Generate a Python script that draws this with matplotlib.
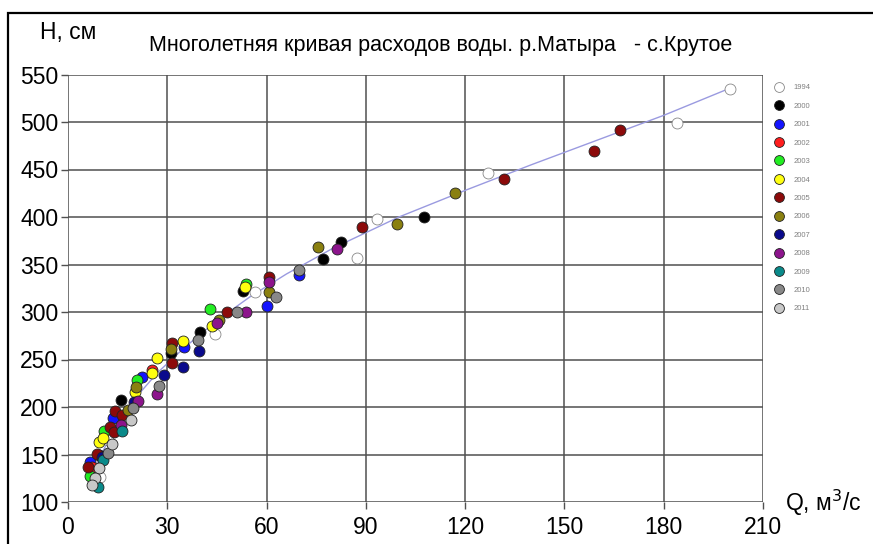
import matplotlib
matplotlib.use("Agg")
import matplotlib.pyplot as plt
from matplotlib.patches import Rectangle

plt.rcParams['font.family'] = ['Liberation Sans', 'DejaVu Sans']

years = ['1994', '2000', '2001', '2002', '2003', '2004', '2005', '2006',
         '2007', '2008', '2009', '2010', '2011']
colors = ['#ffffff', '#000000', '#1414ff', '#ff1e1e', '#22ee22', '#ffff10',
          '#8c0a0a', '#8a8010', '#0a0a8c', '#8c148c', '#0a8a8a', '#888888',
          '#c8c8c8']

q_1994 = [199.9, 183.9, 127.0, 93.4, 87.4, 56.5, 44.5, 12.1, 9.7]
h_1994 = [534.3, 498.5, 446.0, 397.6, 356.6, 320.8, 276.7, 165.0, 126.0]
q_2000 = [107.6, 82.6, 77.1, 52.9, 39.9, 31.1, 16.0, 9.4]
h_2000 = [399.7, 373.4, 355.5, 321.9, 278.8, 256.7, 207.3, 149.4]
q_2001 = [60.2, 69.9, 35.1, 22.4, 13.6, 6.7]
h_2001 = [306.1, 338.7, 263.0, 231.4, 188.3, 142.0]
q_2002 = [7.3, 25.4]
h_2002 = [136.8, 238.8]
q_2003 = [53.8, 42.9, 20.9, 10.9, 6.7]
h_2003 = [329.2, 302.9, 228.3, 174.7, 127.3]
q_2004 = [53.5, 43.5, 34.8, 26.9, 25.4, 20.3, 9.4, 10.6]
h_2004 = [326.0, 285.1, 269.3, 251.4, 235.6, 215.7, 163.1, 167.3]
q_2005 = [166.9, 158.8, 131.8, 88.9, 60.8, 48.1, 31.4, 31.4, 14.2, 16.3,
          12.7, 13.9, 8.8, 6.0]
h_2005 = [491.2, 469.1, 439.6, 389.2, 336.6, 299.8, 267.2, 246.2, 195.7,
          191.5, 178.9, 173.6, 150.5, 136.8]
q_2006 = [117.0, 99.5, 75.6, 60.8, 45.7, 31.1, 18.1, 20.6]
h_2006 = [424.9, 392.3, 368.1, 320.8, 291.4, 260.9, 196.7, 220.9]
q_2007 = [39.6, 34.8, 29.0, 20.0, 10.3]
h_2007 = [258.8, 242.0, 233.5, 205.2, 147.3]
q_2008 = [81.3, 60.8, 53.8, 45.1, 26.9, 21.2, 16.0]
h_2008 = [366.0, 331.3, 299.8, 288.2, 213.6, 206.2, 181.0]
q_2009 = [9.1, 16.3, 10.6]
h_2009 = [115.8, 174.7, 144.2]
q_2010 = [62.9, 51.1, 39.3, 69.9, 27.5, 19.7, 12.1]
h_2010 = [315.6, 299.8, 270.3, 344.0, 222.0, 198.8, 151.5]
q_2011 = [19.1, 13.3, 9.4, 8.2, 7.3]
h_2011 = [186.2, 161.0, 135.8, 125.2, 117.9]

q_all = [q_1994, q_2000, q_2001, q_2002, q_2003, q_2004, q_2005, q_2006,
         q_2007, q_2008, q_2009, q_2010, q_2011]
h_all = [h_1994, h_2000, h_2001, h_2002, h_2003, h_2004, h_2005, h_2006,
         h_2007, h_2008, h_2009, h_2010, h_2011]

curve_q = [6, 10, 15, 20, 27, 35, 45, 55, 66, 80, 100, 120, 140, 160, 180, 201]
curve_h = [118, 150, 183, 208, 236, 262, 291, 316, 340, 367, 400, 428, 455,
           481, 507, 537]

x_ticks = [0, 30, 60, 90, 120, 150, 180, 210]
y_ticks = [100, 150, 200, 250, 300, 350, 400, 450, 500, 550]

fig = plt.figure(figsize=(8.73, 5.44), dpi=100)
W, H = 873, 544
ax = fig.add_axes([68 / W, 1 - 502 / H, (763 - 68) / W, (502 - 74.5) / H])

ax.set_xlim(0, 210)
ax.set_ylim(100, 550)
ax.set_xticks(x_ticks)
ax.set_yticks(y_ticks)
ax.grid(True, color='#505050', linewidth=1.1)
ax.set_axisbelow(True)
for s in ax.spines.values():
    s.set_visible(False)
ax.tick_params(axis='both', labelsize=16.5, length=5, width=1, color='#505050',
               pad=2)
ax.tick_params(axis='x', pad=5)

ax.plot(curve_q, curve_h, color='#9a9ae0', linewidth=1.0, zorder=2)

for yr, c, qv, hv in zip(years, colors, q_all, h_all):
    ec = '#888888' if yr == '1994' else '#222222'
    ax.scatter(qv, hv, s=62, color=c, edgecolors=ec, linewidths=0.6,
               zorder=3, label=yr, clip_on=False)

leg = fig.legend(loc='upper left', bbox_to_anchor=(768 / W, 1 - 81 / H),
                 frameon=False, fontsize=5.5, labelspacing=1.45,
                 handletextpad=0.9, borderaxespad=0, markerscale=0.9,
                 scatteryoffsets=[0.5])
for t in leg.get_texts():
    t.set_color('#808080')

fig.text(441 / W, 1 - 45 / H,
         'Многолетняя кривая расходов воды. р.Матыра   - с.Крутое',
         ha='center', va='center', fontsize=15.5)
fig.text(68 / W, 1 - 33 / H, 'Н, см', ha='center', va='center', fontsize=16.5)
fig.text(785 / W, 1 - 503 / H, 'Q, м$^3$/с', ha='left', va='center',
         fontsize=16.5)

fig.patches.append(Rectangle((8 / W, -0.1), 1.2, 1 - 13 / H + 0.1,
                             transform=fig.transFigure, fill=False,
                             edgecolor='black', linewidth=1.6))

fig.savefig('out.png', dpi=100)
